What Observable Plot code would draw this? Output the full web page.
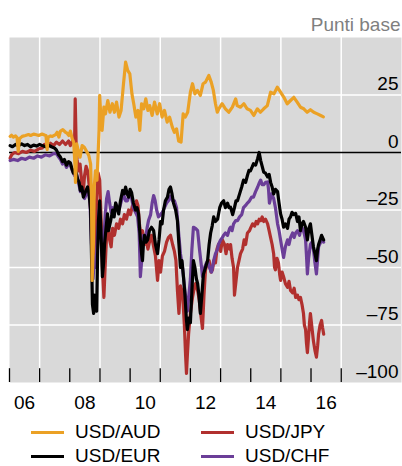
<!DOCTYPE html>
<html><head><meta charset="utf-8">
<script src="https://cdn.jsdelivr.net/npm/d3@7"></script>
<script src="https://cdn.jsdelivr.net/npm/@observablehq/plot@0.6"></script>
<style>
body{margin:0;background:#fff;font-family:"Liberation Sans",Arial,sans-serif;}
#wrap{position:relative;width:402px;height:466px;}
.sw{position:absolute;width:33px;height:3px;}
.lt{position:absolute;font-size:19px;line-height:22px;color:#000;white-space:nowrap;}
</style></head>
<body><div id="wrap"></div>
<script>
// [decimal year, basis points]
const audUsd = [[2006.02,7],[2006.07,7.5],[2006.13,6.7],[2006.20,7.2],[2006.25,6.5],[2006.29,0.5],[2006.33,6],[2006.42,7],[2006.53,7.4],[2006.63,7.8],[2006.70,7.4],[2006.80,8],[2006.86,7.8],[2006.97,7.4],[2007.08,8],[2007.16,7.6],[2007.21,7.4],[2007.25,1.2],[2007.28,6.7],[2007.36,7.2],[2007.42,7],[2007.53,7.8],[2007.58,8.8],[2007.64,6.7],[2007.69,9.3],[2007.77,9.9],[2007.86,8.8],[2007.91,8.4],[2007.97,7.4],[2008.02,9.3],[2008.08,6],[2008.13,4.5],[2008.17,-5],[2008.19,-13],[2008.21,-6],[2008.23,3.8],[2008.28,0.9],[2008.34,-2],[2008.41,3],[2008.48,2.3],[2008.54,0.9],[2008.63,-1.3],[2008.69,-5],[2008.72,-20],[2008.74,-55.6],[2008.78,-40],[2008.81,-15],[2008.85,-8],[2008.90,-12],[2008.94,0],[2008.97,10],[2008.99,24.8],[2009.03,15],[2009.07,9.6],[2009.13,19.7],[2009.18,16.8],[2009.26,22.6],[2009.33,17.5],[2009.41,21.2],[2009.48,17.5],[2009.55,21.9],[2009.63,15.4],[2009.70,18.3],[2009.77,28.4],[2009.85,39.3],[2009.92,35.7],[2009.99,34.2],[2010.06,25.5],[2010.12,21.2],[2010.19,15.4],[2010.26,18.3],[2010.32,9.6],[2010.38,21.2],[2010.45,19],[2010.52,23.3],[2010.59,18.3],[2010.65,20.4],[2010.73,16.1],[2010.81,21.9],[2010.90,16.8],[2010.98,21.2],[2011.06,15.4],[2011.14,18.3],[2011.23,13.2],[2011.31,15.4],[2011.40,11],[2011.47,8.8],[2011.54,10.3],[2011.61,5],[2011.69,4.5],[2011.76,16.8],[2011.83,15.4],[2011.91,17.5],[2012.00,26.2],[2012.07,29.9],[2012.15,25.5],[2012.23,27],[2012.33,24.8],[2012.42,29.9],[2012.50,30.6],[2012.61,33.5],[2012.69,30.6],[2012.76,27],[2012.83,21.2],[2012.89,17.5],[2012.94,19],[2013.05,21.2],[2013.16,19],[2013.27,17.5],[2013.39,19.7],[2013.50,23.3],[2013.55,20.4],[2013.66,19.7],[2013.77,21.2],[2013.88,19],[2013.99,18.3],[2014.10,16.1],[2014.22,19],[2014.32,17.5],[2014.43,19],[2014.55,20.4],[2014.66,26.2],[2014.77,25.5],[2014.88,28.4],[2014.99,26.2],[2015.10,24],[2015.21,21.2],[2015.32,22.6],[2015.43,24],[2015.54,21.9],[2015.65,19.7],[2015.76,19],[2015.87,17.5],[2015.98,18.6],[2016.09,17.5],[2016.21,16.8],[2016.32,16.1],[2016.41,15.5]];
const jpyUsd = [[2006.02,-2.5],[2006.07,-1],[2006.17,0],[2006.30,-0.5],[2006.43,0.5],[2006.56,0],[2006.70,1],[2006.83,0.5],[2006.96,1.5],[2007.09,2],[2007.16,3.5],[2007.26,2.5],[2007.36,4],[2007.46,3],[2007.56,4.5],[2007.66,3.5],[2007.76,5],[2007.86,3.5],[2007.96,5],[2008.02,3],[2008.09,5],[2008.16,4],[2008.18,23.3],[2008.21,4],[2008.24,-3],[2008.29,-8],[2008.34,-5],[2008.39,-12],[2008.44,-18],[2008.49,-10],[2008.54,-6],[2008.59,-8],[2008.64,-14],[2008.69,-25],[2008.74,-40],[2008.79,-47],[2008.84,-35],[2008.89,-20],[2008.94,-9],[2008.99,-12],[2009.04,-30],[2009.08,-50],[2009.13,-63],[2009.17,-50],[2009.22,-36],[2009.27,-30],[2009.32,-38],[2009.37,-41],[2009.42,-33],[2009.48,-36],[2009.55,-31],[2009.62,-33],[2009.68,-29],[2009.75,-31],[2009.81,-27],[2009.88,-29],[2009.95,-25],[2010.01,-27],[2010.08,-23],[2010.15,-25],[2010.21,-21],[2010.26,-23],[2010.31,-31],[2010.36,-37],[2010.41,-34],[2010.48,-40],[2010.54,-38],[2010.59,-42],[2010.64,-39],[2010.71,-36],[2010.78,-41],[2010.84,-45],[2010.91,-55.6],[2010.96,-47],[2011.01,-52],[2011.07,-45],[2011.14,-43],[2011.21,-39],[2011.27,-37],[2011.34,-36],[2011.41,-40],[2011.47,-43],[2011.52,-47],[2011.57,-60],[2011.62,-70],[2011.67,-58],[2011.74,-61],[2011.80,-75],[2011.84,-88],[2011.87,-96],[2011.90,-88],[2011.94,-79],[2012.00,-70],[2012.07,-63],[2012.14,-58],[2012.17,-57],[2012.24,-60],[2012.29,-64],[2012.34,-70],[2012.40,-76.5],[2012.45,-62],[2012.50,-51],[2012.57,-48],[2012.62,-47],[2012.68,-52],[2012.73,-51],[2012.78,-47],[2012.83,-48],[2012.88,-42],[2012.93,-40],[2013.00,-43],[2013.06,-38],[2013.13,-40],[2013.18,-44],[2013.23,-40],[2013.30,-42],[2013.33,-40],[2013.38,-46],[2013.43,-50],[2013.46,-62],[2013.51,-56],[2013.56,-50],[2013.61,-47],[2013.66,-44],[2013.73,-42],[2013.78,-38],[2013.83,-40],[2013.89,-35],[2013.96,-34],[2013.99,-33],[2014.06,-31],[2014.13,-32],[2014.18,-30],[2014.23,-31],[2014.28,-29],[2014.33,-29.6],[2014.38,-28],[2014.43,-30],[2014.49,-29],[2014.56,-31],[2014.61,-34],[2014.66,-37],[2014.71,-40],[2014.76,-44],[2014.79,-50],[2014.82,-51],[2014.87,-46],[2014.92,-48],[2014.96,-53],[2014.99,-55.6],[2015.04,-52],[2015.09,-54],[2015.15,-57],[2015.22,-58.6],[2015.27,-56],[2015.32,-60],[2015.39,-61],[2015.44,-59],[2015.49,-63],[2015.55,-62],[2015.60,-64],[2015.65,-63],[2015.70,-66],[2015.75,-70],[2015.78,-75],[2015.82,-77],[2015.85,-83],[2015.88,-87],[2015.92,-80],[2015.95,-74],[2015.98,-70],[2016.03,-76],[2016.08,-82],[2016.13,-86],[2016.18,-89],[2016.22,-84],[2016.25,-79],[2016.30,-75],[2016.35,-73],[2016.38,-76],[2016.42,-79]];
const eurUsd = [[2006.02,3],[2006.10,2.5],[2006.20,3.5],[2006.30,3],[2006.40,3.8],[2006.50,3],[2006.60,3.5],[2006.70,2.5],[2006.80,3.2],[2006.90,2.8],[2007.00,3.5],[2007.09,3],[2007.19,2.5],[2007.29,3.2],[2007.39,2.5],[2007.49,2],[2007.56,1],[2007.63,-1],[2007.69,-2],[2007.76,-4],[2007.82,-3],[2007.89,-5.5],[2007.96,-4],[2008.02,-4.5],[2008.07,-7],[2008.12,-9],[2008.19,-8],[2008.26,-11.6],[2008.31,-13],[2008.35,-16.5],[2008.40,-15],[2008.45,-19.4],[2008.52,-17],[2008.59,-15],[2008.64,-18],[2008.69,-25],[2008.72,-45],[2008.75,-66],[2008.79,-70],[2008.82,-62],[2008.85,-68],[2008.89,-69],[2008.92,-45],[2008.95,-29.6],[2008.99,-21],[2009.02,-30],[2009.05,-41],[2009.08,-54],[2009.12,-48],[2009.15,-40],[2009.20,-33],[2009.25,-26.7],[2009.28,-34],[2009.35,-30],[2009.42,-25],[2009.47,-28],[2009.52,-22],[2009.57,-24],[2009.62,-26.7],[2009.68,-21],[2009.75,-16.5],[2009.80,-18],[2009.85,-15],[2009.90,-18],[2009.95,-19.4],[2010.00,-16],[2010.05,-17.5],[2010.11,-22],[2010.18,-25],[2010.23,-24],[2010.28,-26.7],[2010.34,-38],[2010.38,-44],[2010.41,-47],[2010.44,-40],[2010.48,-36],[2010.53,-39],[2010.58,-38],[2010.64,-34],[2010.71,-32.5],[2010.78,-34],[2010.84,-40],[2010.91,-44],[2010.96,-38],[2011.01,-30],[2011.06,-31],[2011.11,-25],[2011.17,-21],[2011.24,-19.4],[2011.29,-16],[2011.34,-15],[2011.39,-18],[2011.44,-22],[2011.51,-25],[2011.57,-29.6],[2011.62,-40],[2011.67,-50],[2011.72,-47],[2011.77,-54],[2011.82,-62],[2011.87,-73],[2011.90,-77],[2011.95,-72],[2012.00,-74],[2012.05,-60],[2012.10,-47],[2012.15,-50],[2012.20,-55],[2012.24,-57],[2012.29,-63],[2012.33,-70],[2012.38,-62],[2012.43,-53],[2012.50,-50],[2012.57,-47],[2012.62,-40],[2012.67,-35],[2012.72,-32],[2012.77,-28],[2012.83,-30],[2012.90,-29],[2012.97,-24],[2013.03,-22],[2013.10,-21],[2013.16,-24],[2013.23,-22],[2013.28,-24],[2013.33,-23.8],[2013.40,-27],[2013.46,-24],[2013.51,-21],[2013.56,-21],[2013.63,-18],[2013.70,-15],[2013.76,-12],[2013.83,-13],[2013.89,-10],[2013.94,-7.8],[2013.99,-8],[2014.04,-6.5],[2014.09,-4.9],[2014.16,-5.5],[2014.23,-2.6],[2014.28,0],[2014.33,-3.5],[2014.38,-6],[2014.43,-8.5],[2014.49,-9],[2014.56,-10.6],[2014.61,-9.5],[2014.66,-13],[2014.71,-15],[2014.76,-18],[2014.82,-16],[2014.89,-17],[2014.94,-22],[2014.99,-26.7],[2015.04,-29],[2015.09,-32.5],[2015.15,-31],[2015.22,-33],[2015.27,-29],[2015.32,-28],[2015.37,-26],[2015.42,-27],[2015.49,-26.5],[2015.55,-30],[2015.60,-28],[2015.65,-34],[2015.70,-31],[2015.75,-30],[2015.82,-32.5],[2015.88,-38],[2015.93,-33],[2015.98,-31],[2016.03,-36],[2016.08,-41],[2016.13,-44],[2016.18,-47],[2016.22,-42],[2016.25,-40],[2016.30,-38],[2016.35,-36],[2016.38,-37],[2016.42,-38]];
const chfUsd = [[2006.02,-3.5],[2006.13,-3],[2006.27,-3.5],[2006.40,-2.5],[2006.53,-3],[2006.66,-2],[2006.80,-2.5],[2006.93,-1.5],[2007.06,-2],[2007.19,-1],[2007.33,-1.5],[2007.46,-0.5],[2007.56,-0.5],[2007.63,-2],[2007.69,-3],[2007.76,-5],[2007.82,-4],[2007.89,-6.5],[2007.96,-5],[2008.02,-5.5],[2008.09,-8],[2008.16,-10],[2008.22,-9],[2008.29,-13],[2008.35,-17],[2008.42,-16],[2008.49,-20],[2008.55,-18],[2008.62,-17],[2008.67,-22],[2008.72,-40],[2008.77,-55],[2008.82,-45],[2008.87,-50],[2008.92,-35],[2008.97,-25],[2009.02,-32],[2009.07,-45],[2009.12,-40],[2009.17,-28],[2009.22,-20],[2009.27,-17],[2009.32,-22],[2009.37,-26],[2009.42,-24],[2009.47,-27],[2009.52,-22],[2009.58,-25],[2009.65,-24],[2009.71,-21],[2009.78,-18],[2009.85,-21],[2009.91,-21],[2009.98,-18],[2010.05,-20],[2010.11,-24],[2010.18,-26],[2010.25,-28],[2010.30,-35],[2010.34,-54],[2010.39,-46],[2010.44,-36],[2010.51,-38],[2010.56,-33],[2010.61,-29.6],[2010.68,-27],[2010.73,-22],[2010.78,-18.7],[2010.83,-21],[2010.88,-25],[2010.94,-28],[2011.01,-27],[2011.07,-26],[2011.14,-24],[2011.21,-22],[2011.27,-21],[2011.34,-19],[2011.41,-21],[2011.47,-21],[2011.54,-24],[2011.61,-35],[2011.67,-44],[2011.74,-50],[2011.80,-58],[2011.87,-66],[2011.90,-69],[2011.95,-62],[2012.00,-55],[2012.05,-42],[2012.10,-32.5],[2012.17,-33],[2012.24,-34],[2012.30,-42],[2012.37,-50],[2012.40,-54],[2012.47,-50],[2012.53,-48],[2012.57,-47],[2012.63,-50],[2012.70,-52],[2012.77,-47],[2012.83,-44],[2012.90,-42],[2012.93,-40],[2013.00,-38],[2013.06,-37],[2013.10,-36],[2013.16,-35],[2013.23,-36],[2013.30,-33],[2013.33,-32.5],[2013.38,-34],[2013.43,-31],[2013.50,-29.6],[2013.56,-29.6],[2013.63,-28],[2013.70,-27],[2013.76,-24],[2013.83,-23],[2013.89,-22],[2013.96,-21],[2014.03,-19.4],[2014.09,-19.4],[2014.16,-17],[2014.23,-15],[2014.29,-13],[2014.33,-12],[2014.38,-14],[2014.43,-14],[2014.49,-13],[2014.56,-12.8],[2014.59,-16],[2014.62,-22],[2014.69,-18],[2014.76,-20],[2014.82,-24],[2014.89,-31],[2014.94,-34],[2014.99,-38],[2015.04,-42],[2015.09,-45.6],[2015.15,-41],[2015.22,-38],[2015.27,-40],[2015.32,-37],[2015.39,-35],[2015.44,-37],[2015.49,-35],[2015.55,-34],[2015.62,-36],[2015.65,-34],[2015.72,-33],[2015.77,-35],[2015.82,-38],[2015.85,-45],[2015.88,-52.8],[2015.92,-46],[2015.98,-40],[2016.03,-39],[2016.08,-42],[2016.13,-48],[2016.18,-52.8],[2016.22,-46],[2016.25,-41],[2016.32,-39],[2016.38,-38],[2016.42,-39]];

const seriesNames = ["USD/AUD", "USD/JPY", "USD/EUR", "USD/CHF"];
const seriesColors = ["#eba125", "#b1302e", "#000000", "#6b3e98"];
const yTickValues = [25, 0, -25, -50, -75, -100];
const yGridValues = [25, -25, -50, -75];
const xLabelYears = [2006, 2008, 2010, 2012, 2014, 2016];
const xGridYears = [2007, 2009, 2011, 2013, 2015, 2017];
const xTickYears = [2006, 2007, 2008, 2009, 2010, 2011, 2012, 2013, 2014, 2015, 2016, 2017];
const unitLabel = "Punti base";

function toDate(y) {
  const f = Math.floor(y);
  const a = Date.UTC(f, 0, 1), b = Date.UTC(f + 1, 0, 1);
  return new Date(a + (y - f) * (b - a));
}
const rows = (arr) => arr.map(([t, v]) => ({date: toDate(t), value: v}));
const seriesData = [audUsd, jpyUsd, eurUsd, chfUsd].map(rows);
const xEnd = new Date(Date.UTC(2019, 0, 1));
const fmtY = d => d < 0 ? "\u2013" + (-d) : String(d);

const lineMark = (i) => Plot.line(seriesData[i], {x: "date", y: "value", stroke: seriesColors[i], strokeWidth: 3.2, strokeLinejoin: "round"});

const chart = Plot.plot({
  width: 402, height: 415,
  marginLeft: 9, marginRight: 1, marginTop: 37, marginBottom: 33,
  x: {type: "utc", domain: [new Date(Date.UTC(2006,0,1)), xEnd], axis: null},
  y: {domain: [-100, 50], axis: null},
  style: {fontFamily: "'Liberation Sans', Arial, sans-serif", fontSize: "19px", background: "#fff", overflow: "visible"},
  marks: [
    Plot.frame({fill: "#d9d9d9", stroke: "none"}),
    Plot.ruleY(yGridValues, {stroke: "#fff", strokeWidth: 1.5}),
    Plot.ruleX(xGridYears.map(y => toDate(y)), {stroke: "#fff", strokeWidth: 1.5}),
    Plot.ruleY([0], {stroke: "#000", strokeWidth: 1.3}),
    Plot.ruleX(xTickYears.map(y => toDate(y)), {y1: -100, y2: -94, stroke: "#000", strokeWidth: 1.3}),
    lineMark(1), lineMark(3), lineMark(2), lineMark(0),
    Plot.text(yTickValues, {x: () => xEnd, y: d => d, text: fmtY, textAnchor: "end", lineAnchor: "bottom", dx: -3, dy: -5, fill: "#000"}),
    Plot.text(xLabelYears, {x: y => toDate(y + 0.5), text: y => String(y).slice(2), frameAnchor: "bottom", lineAnchor: "middle", dy: 20, fill: "#000"}),
    Plot.text([unitLabel], {frameAnchor: "top-right", text: d => d, textAnchor: "end", lineAnchor: "middle", dy: -13, dx: -1, fill: "#7f7f7f"})
  ]
});
const wrap = document.getElementById("wrap");
wrap.appendChild(chart);

// legend below the chart
const legendPos = [[31, 75, 432], [201, 245, 432], [31, 75, 456], [201, 245, 456]];
const legendOrder = [0, 1, 2, 3];
legendOrder.forEach((si, k) => {
  const [sx, tx, cy] = legendPos[k];
  const sw = document.createElement("div");
  sw.className = "sw";
  sw.style.left = sx + "px"; sw.style.top = (cy - 1.5) + "px";
  sw.style.background = seriesColors[si];
  wrap.appendChild(sw);
  const t = document.createElement("div");
  t.className = "lt";
  t.style.left = tx + "px"; t.style.top = (cy - 11) + "px";
  t.textContent = seriesNames[si];
  wrap.appendChild(t);
});
</script>
</body></html>
